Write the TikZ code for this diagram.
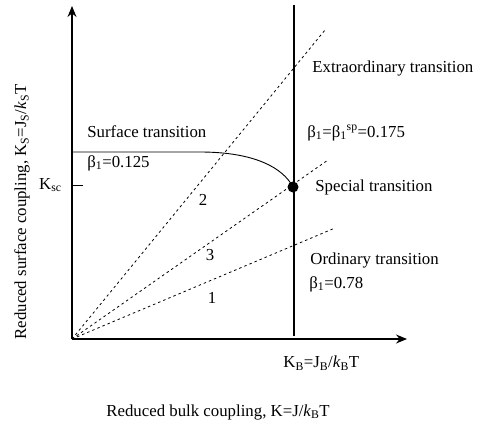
\documentclass[tikz,border=0pt]{standalone}
\usepackage{fontspec}
\setmainfont{Liberation Serif}
\usetikzlibrary{arrows.meta}
\newcommand{\lo}[1]{\textsubscript{#1}}

\begin{document}
\begin{tikzpicture}[
  x=1pt, y=-1pt,
  font=\fontsize{16.8}{19}\selectfont,
  lbl/.style={anchor=west, inner sep=0pt},
  axis/.style={line width=1.1pt, -{Stealth[length=11pt,width=9pt]}},
  path/.style={dash pattern=on 2.5pt off 3pt, line width=0.8pt},
  >=Stealth, thick
]
\useasboundingbox (0,0) rectangle (489,429);

% axes
\coordinate (O) at (72,339);
\coordinate (ytop) at (72,6);
\coordinate (xend) at (407,339);
\draw[axis] (O) -- (ytop);
\draw[axis] (O) -- (xend);

% bulk critical line and special point
\coordinate (vtop) at (294,5);
\coordinate (vbot) at (294,336);
\draw[line width=1.1pt] (vtop) -- (vbot);
\node[circle, fill, inner sep=0pt, minimum size=11pt] (sp) at (293,187) {};

% surface transition line
\coordinate (st) at (72,152);
\draw[line width=0.9pt] (st) -- (200,152) .. controls (255,152) and (283,168) .. (sp.center);

% K_sc tick
\coordinate (tk) at (72,185);
\coordinate (tk2) at (83,185);
\draw[line width=0.9pt] (tk) -- (tk2);
\node[anchor=east, inner sep=0pt] (ksc) at (62,185) {K\lo{sc}};

% renormalisation paths
\coordinate (p2) at (325,30);
\coordinate (p3) at (328,160);
\coordinate (p1) at (335,228);
\draw[path] (O) -- (p2);
\draw[path] (O) -- (p3);
\draw[path] (O) -- (p1);
\node (n2) at (203,200) {2};
\node (n3) at (210,255) {3};
\node (n1) at (212,298) {1};

% labels
\node[lbl] (extra) at (312,68) {Extraordinary transition};
\node[lbl] (betasp) at (307,133) {β\lo{1}=β\lo{1}\textsuperscript{sp}=0.175};
\node[lbl] (special) at (315,187) {Special transition};
\node[lbl] (ord) at (310,260) {Ordinary transition};
\node[lbl] (betaord) at (309,284) {β\lo{1}=0.78};
\node[lbl] (surf) at (87,132) {Surface transition};
\node[lbl] (betasurf) at (87,163) {β\lo{1}=0.125};
\node[lbl] (kb) at (283,363) {K\lo{B}=J\lo{B}/\textit{k}\lo{B}T};
\node[lbl] (xlab) at (106,412) {Reduced bulk coupling, K=J/\textit{k}\lo{B}T};
\node[rotate=90, inner sep=0pt] (ylab) at (22,212) {Reduced surface coupling, K\lo{S}=J\lo{S}/\textit{k}\lo{S}T};

\end{tikzpicture}
\end{document}
